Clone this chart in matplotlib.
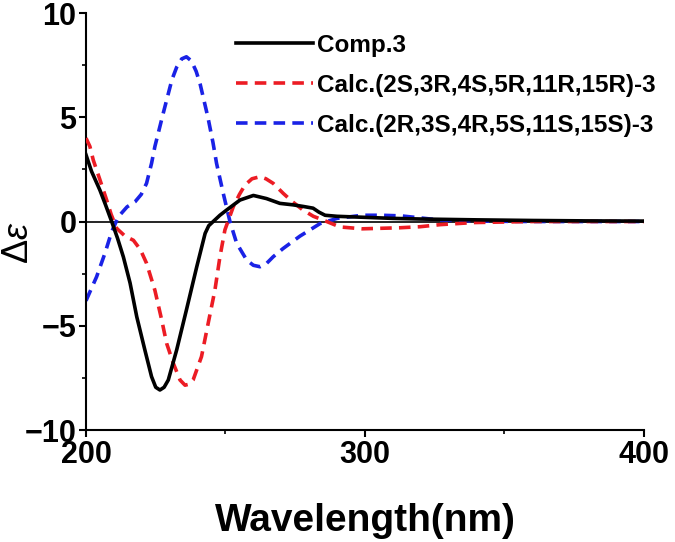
import matplotlib

matplotlib.use("Agg")
import matplotlib.pyplot as plt
from matplotlib.ticker import MultipleLocator

# experimental ECD of compound 3
exp_wl = [200, 202, 205, 207, 209.2, 211.3, 213.4, 215.8, 218.2, 221.1,
          223.5, 225, 226.5, 228, 229.5, 232.5, 236, 239.7, 242.7, 244,
          245.6, 248, 250.4, 255.2, 260, 264.7, 269.5, 274.2, 278, 281.4,
          283.5, 285.7, 290, 300, 310, 320, 340, 360, 380, 400]
exp_cd = [3.2, 2.4, 1.5, 0.8, 0.0, -0.8, -1.7, -2.95, -4.57, -6.16,
          -7.44, -7.95, -8.08, -7.95, -7.6, -6.16, -4.24, -2.17, -0.57, -0.2,
          0.0, 0.3, 0.55, 1.03, 1.25, 1.1, 0.87, 0.8, 0.72, 0.64,
          0.45, 0.3, 0.25, 0.2, 0.15, 0.12, 0.08, 0.05, 0.03, 0.02]

# calculated ECD (2S,3R,4S,5R,11R,15R)-3
calc_a_wl = [200, 201.4, 202.6, 205, 207.4, 209, 211, 214, 217, 219.5,
             221.7, 224.7, 227.1, 228.9, 231.3, 233.7, 235.5, 237, 238.4, 241.4,
             243.8, 246.2, 248, 249.8, 252.8, 255, 257, 259.5, 262.4, 264.5,
             267.1, 270.7, 274, 277.8, 281.5, 285, 291, 299, 312.5, 319.7,
             327, 339, 360, 380, 400]
calc_a_cd = [4.0, 3.6, 2.95, 2.0, 1.03, 0.35, -0.33, -0.7, -0.9, -1.35,
             -2.0, -3.3, -4.7, -5.84, -6.8, -7.6, -7.85, -7.8, -7.6, -6.48,
             -4.88, -3.3, -1.7, -0.4, 0.71, 1.3, 1.75, 2.05, 2.15, 2.05,
             1.83, 1.35, 0.95, 0.55, 0.25, 0.07, -0.26, -0.35, -0.3, -0.25,
             -0.15, -0.05, 0.0, 0.0, 0.0]

# calculated ECD (2R,3S,4R,5S,11S,15S)-3
calc_b_wl = [200, 203.8, 206.8, 209.2, 211.6, 214.7, 217.6, 219.8, 221.7, 223.5,
             224.7, 227.7, 230.8, 232.5, 234.3, 236, 237.8, 239.5, 240.9, 243.7,
             245.5, 246.8, 249.2, 251.6, 254, 257.6, 260, 262.4, 264.8, 267.1,
             270.6, 276.7, 283.9, 290, 299, 306, 313, 320, 327, 340,
             360, 380, 400]
calc_b_cd = [-3.8, -2.65, -1.52, -0.49, 0.23, 0.7, 0.95, 1.3, 1.83, 2.79,
             3.6, 5.2, 6.8, 7.4, 7.8, 7.9, 7.7, 7.2, 6.6, 5.0,
             3.8, 2.79, 1.35, 0.0, -1.04, -1.85, -2.1, -2.17, -2.0, -1.69,
             -1.3, -0.7, -0.1, 0.15, 0.3, 0.3, 0.27, 0.17, 0.07, 0.02,
             0.0, 0.0, 0.0]

labels = ["Comp.3", "Calc.(2S,3R,4S,5R,11R,15R)-3", "Calc.(2R,3S,4R,5S,11S,15S)-3"]

plt.rcParams["font.family"] = ["Liberation Sans", "DejaVu Sans"]
plt.rcParams["mathtext.fontset"] = "custom"
plt.rcParams["mathtext.rm"] = "Liberation Sans"
plt.rcParams["mathtext.it"] = "Liberation Sans:italic"

fig = plt.figure(figsize=(6.75, 5.42), dpi=100)
ax = fig.add_axes([0.1274, 0.2066, 0.8266, 0.7694])

ax.axhline(0, color="black", linewidth=1.2, zorder=1)
ax.plot(exp_wl, exp_cd, color="black", linewidth=2.6, label=labels[0], zorder=4)
ax.plot(calc_a_wl, calc_a_cd, color="#ec1c24", linewidth=2.6,
        linestyle=(0, (3.2, 2.0)), label=labels[1], zorder=3)
ax.plot(calc_b_wl, calc_b_cd, color="#1a22e6", linewidth=2.6,
        linestyle=(0, (3.2, 2.0)), label=labels[2], zorder=2)

ax.set_xlim(200, 400)
ax.set_ylim(-10, 10)
ax.xaxis.set_major_locator(MultipleLocator(100))
ax.xaxis.set_minor_locator(MultipleLocator(50))
ax.yaxis.set_major_locator(MultipleLocator(5))
ax.yaxis.set_minor_locator(MultipleLocator(2.5))
ax.tick_params(which="major", direction="out", length=5, width=1.5,
               labelsize=22, pad=2)
ax.tick_params(which="minor", direction="out", length=3, width=1.2)
for lab in ax.get_xticklabels() + ax.get_yticklabels():
    lab.set_fontweight("bold")

ax.spines["top"].set_visible(False)
ax.spines["right"].set_visible(False)
ax.spines["left"].set_linewidth(1.5)
ax.spines["bottom"].set_linewidth(1.5)

ax.set_xlabel("Wavelength(nm)", fontsize=28, fontweight="bold")
ax.xaxis.set_label_coords(0.5, -0.175)
fig.text(19 / 675, 1 - 243 / 542, r"$\Delta\mathit{\varepsilon}$", fontsize=26,
         rotation=90, ha="center", va="center")

ax.legend(loc="upper left", bbox_to_anchor=(236 / 675, 1 - 34 / 542),
          bbox_transform=fig.transFigure, frameon=False, borderpad=0,
          borderaxespad=0, prop={"size": 17.5, "weight": "bold"},
          handlelength=3.15, handletextpad=0.2, labelspacing=0.69)

fig.savefig("out.png", dpi=100)
